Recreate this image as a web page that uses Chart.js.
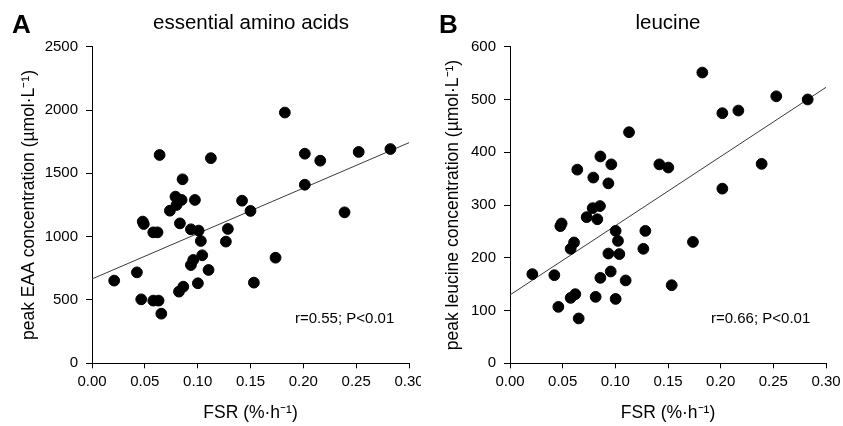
<!DOCTYPE html>
<html>
<head>
<meta charset="utf-8">
<script src="https://cdn.jsdelivr.net/npm/chart.js@4"></script>
<style>
  html, body { margin: 0; padding: 0; background: #fff; }
  #wrap { position: relative; width: 843px; height: 426px; font-family: "Liberation Sans", Arial, sans-serif; color: #000; }
  canvas { position: absolute; top: 0; }
  .lbl { position: absolute; line-height: 1; white-space: nowrap; }
  .letter { font-size: 26px; font-weight: bold; top: 11px; }
  .title { font-size: 20.5px; top: 12px; transform: translateX(-50%); }
  .stat { font-size: 15px; top: 310px; }
</style>
</head>
<body>
<div id="wrap">
  <canvas id="chartA" width="421" height="426" style="left:0"></canvas>
  <canvas id="chartB" width="423" height="426" style="left:420px"></canvas>
  <div class="lbl letter" style="left:12px">A</div>
  <div class="lbl title" style="left:251px">essential amino acids</div>
  <div class="lbl stat" style="left:295px">r=0.55; P&lt;0.01</div>
  <div class="lbl letter" style="left:439px">B</div>
  <div class="lbl title" style="left:668px">leucine</div>
  <div class="lbl stat" style="left:711px">r=0.66; P&lt;0.01</div>
</div>
<script>
// panel A: essential amino acids
const eaaFsr = [0.021, 0.0425, 0.0466, 0.048, 0.049, 0.058, 0.058, 0.062, 0.063, 0.064, 0.0656,
  0.0737, 0.079, 0.080, 0.0823, 0.0832, 0.0848, 0.0857, 0.0864, 0.0936, 0.0936, 0.0958, 0.0974,
  0.1002, 0.1009, 0.103, 0.1043, 0.1103, 0.1125, 0.1267, 0.1286, 0.142, 0.150, 0.1532, 0.1737,
  0.1825, 0.2014, 0.2014, 0.216, 0.239, 0.2524, 0.2824];
const eaaConc = [653, 718, 505, 1119, 1100, 1034, 495, 1034, 495, 1645, 392,
  1205, 1316, 1250, 566, 1105, 1290, 1453, 605, 1058, 776, 816, 1290,
  632, 1048, 966, 853, 737, 1620, 961, 1061, 1284, 1203, 637, 834,
  1980, 1655, 1410, 1600, 1192, 1669, 1692];
const eaaFitX = [0, 0.30];
const eaaFitY = [666, 1742];

// panel B: leucine
const leuFsr = [0.0212, 0.0421, 0.0459, 0.0478, 0.049, 0.0576, 0.0576, 0.0608, 0.062, 0.0639, 0.0652,
  0.0728, 0.0785, 0.0791, 0.0813, 0.0829, 0.0854, 0.0858, 0.0858, 0.0934, 0.0934, 0.0956, 0.0962,
  0.1003, 0.1003, 0.1025, 0.1038, 0.1098, 0.113, 0.1266, 0.1285, 0.1418, 0.1503, 0.1535, 0.1737,
  0.1826, 0.2016, 0.2016, 0.2168, 0.2389, 0.2528, 0.2826];
const leuConc = [169, 167, 107, 260, 265, 217, 124, 229, 131, 367, 85,
  277, 294, 352, 126, 273, 298, 392, 162, 341, 208, 174, 377,
  251, 122, 232, 207, 157, 438, 217, 251, 377, 371, 148, 230,
  551, 474, 331, 479, 378, 506, 500];
const leuFitX = [0, 0.30];
const leuFitY = [129.5, 523];

const xTicks = { min: 0, max: 0.3, step: 0.05 };
const eaaTicks = { min: 0, max: 2500, step: 500 };
const leuTicks = { min: 0, max: 600, step: 100 };

const FONT = "'Liberation Sans', Arial, sans-serif";

function toPoints(xs, ys) {
  return xs.map((x, i) => ({ x: x, y: ys[i] }));
}

function makePanel(id, xs, ys, fitX, fitY, yt, yTitle, pad, yWidth) {
  const ctx = document.getElementById(id).getContext("2d");
  new Chart(ctx, {
    type: "scatter",
    data: {
      datasets: [
        {
          data: toPoints(xs, ys),
          backgroundColor: "#000",
          borderColor: "#000",
          pointRadius: 5.4,
          pointHoverRadius: 5.4,
          order: 1,
        },
        {
          data: toPoints(fitX, fitY),
          showLine: true,
          borderColor: "#3a3a3a",
          borderWidth: 1,
          pointRadius: 0,
          order: 2,
        },
      ],
    },
    options: {
      responsive: false,
      animation: false,
      events: [],
      layout: { padding: pad },
      plugins: { legend: { display: false }, tooltip: { enabled: false } },
      scales: {
        x: {
          type: "linear",
          min: xTicks.min,
          max: xTicks.max,
          ticks: {
            stepSize: xTicks.step,
            color: "#000",
            padding: 5,
            font: { family: FONT, size: 15 },
            callback: (v) => v.toFixed(2),
          },
          grid: { drawOnChartArea: false, color: "#000", tickLength: 5 },
          border: { color: "#000", width: 1 },
          title: {
            display: true,
            text: "FSR (%·h⁻¹)",
            color: "#000",
            padding: 0,
            font: { family: FONT, size: 17.5 },
          },
          afterFit: (s) => { s.height = 60.3; s.paddingLeft = 0; s.paddingRight = 0; },
        },
        y: {
          type: "linear",
          min: yt.min,
          max: yt.max,
          ticks: {
            stepSize: yt.step,
            color: "#000",
            padding: 8,
            font: { family: FONT, size: 15 },
            callback: (v) => String(v),
          },
          grid: { drawOnChartArea: false, color: "#000", tickLength: 6 },
          border: { color: "#000", width: 1 },
          title: {
            display: true,
            text: yTitle,
            color: "#000",
            padding: 0,
            font: { family: FONT, size: 17.5 },
          },
          afterFit: (s) => { s.width = yWidth; s.paddingTop = 0; s.paddingBottom = 0; },
        },
      },
    },
  });
}

makePanel("chartA", eaaFsr, eaaConc, eaaFitX, eaaFitY, eaaTicks,
  "peak EAA concentration (µmol·L⁻¹)",
  { left: 18.5, right: 12, top: 46.7, bottom: 2.4 }, 73.5);

makePanel("chartB", leuFsr, leuConc, leuFitX, leuFitY, leuTicks,
  "peak leucine concentration (µmol·L⁻¹)",
  { left: 22.5, right: 17, top: 46.7, bottom: 2.4 }, 67.5);
</script>
</body>
</html>
